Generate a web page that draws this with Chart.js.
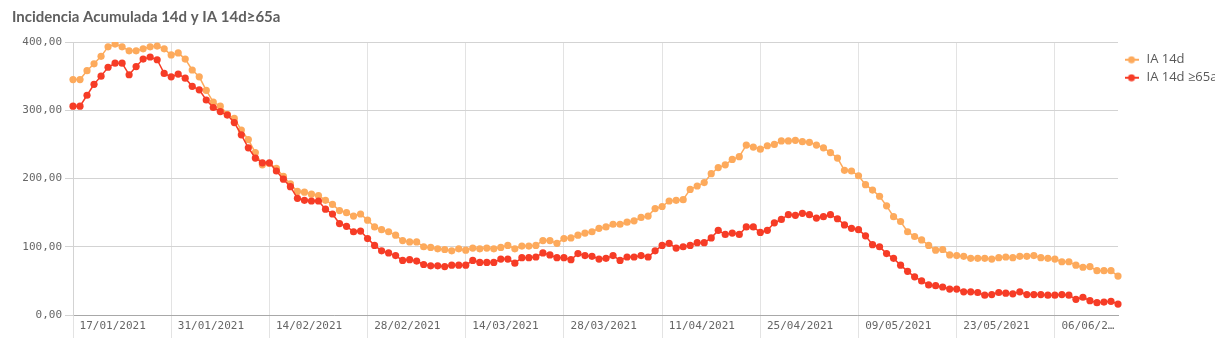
<!DOCTYPE html>
<html>
<head>
<meta charset="utf-8">
<script src="https://cdn.jsdelivr.net/npm/chart.js@4"></script>
<style>
  html, body { margin: 0; padding: 0; background: #fff; }
  #wrap { width: 1215px; height: 358px; }
</style>
</head>
<body>
<div id="wrap"><canvas id="chart" width="1215" height="358"></canvas></div>
<script>
const startDate = new Date(2021, 0, 17);
const labelStep = 14;

// IA 14d (orange)
const ia14d = [
  345, 345, 358, 368, 379, 393, 397, 393, 387, 387, 390, 393, 394, 390, 381, 384, 375, 359, 349, 329,
  312, 306, 294, 288, 271, 257, 238, 220, 222, 215, 203, 192, 181, 180, 177, 175, 168, 162,
  153, 150, 145, 148, 139, 129, 125, 122, 117, 109, 107, 107, 100, 99, 97, 96, 94, 97, 95, 98,
  97, 98, 97, 99, 102, 97, 101, 101, 102, 109, 109, 105, 112, 113, 117, 120, 122,
  127, 129, 133, 133, 136, 138, 143, 145, 156, 159, 167, 168, 169, 184, 189, 194, 207, 216, 220,
  228, 232, 249, 246, 243, 248, 250, 255, 255, 256, 254, 253, 249, 245, 238, 230, 212, 211,
  204, 191, 183, 174, 160, 144, 137, 122, 115, 110, 102, 95, 96, 88, 87, 86, 83, 83, 83, 82,
  84, 85, 84, 86, 86, 87, 84, 83, 82, 78, 78, 73, 70, 71, 65, 65, 65, 57
];

// IA 14d >=65a (red)
const ia14d65 = [
  306, 306, 322, 338, 350, 363, 369, 369, 352, 364, 375, 378, 374, 354, 349, 353, 347, 335, 330, 315,
  304, 298, 293, 282, 264, 245, 230, 223, 223, 211, 199, 188, 171, 168, 167, 167, 155, 148,
  134, 130, 122, 123, 112, 102, 94, 91, 87, 80, 81, 79, 74, 72, 72, 71, 73, 73, 73, 80,
  77, 77, 77, 82, 82, 76, 84, 84, 85, 91, 88, 84, 84, 81, 90, 87, 86,
  82, 83, 87, 80, 85, 85, 87, 85, 94, 102, 105, 98, 100, 102, 106, 106, 113, 124, 118,
  120, 118, 129, 129, 121, 124, 135, 140, 147, 146, 149, 147, 142, 144, 147, 141, 132, 127,
  125, 116, 103, 100, 90, 83, 73, 64, 56, 50, 44, 43, 41, 38, 38, 34, 34, 33, 29, 30,
  33, 32, 31, 34, 30, 30, 30, 29, 29, 30, 29, 23, 26, 21, 18, 19, 20, 16
];

const yTicks = [0, 100, 200, 300, 400];
// the last tick label does not fit before the plot edge and is cut short
const lastTickLabel = '06/06/2…';

function pad(n) { return n < 10 ? '0' + n : '' + n; }
const dates = [];
for (let i = 0; i < ia14d.length; i++) {
  const d = new Date(startDate.getFullYear(), startDate.getMonth(), startDate.getDate() + i);
  dates.push(pad(d.getDate()) + '/' + pad(d.getMonth() + 1) + '/' + d.getFullYear());
}

const orange = '#fdaa5c';
const red = '#f63c26';

function legendMarker(color) {
    const c = document.createElement('canvas');
    c.width = 14; c.height = 8;
    const ctx = c.getContext('2d');
    ctx.strokeStyle = color;
    ctx.lineWidth = 2;
    ctx.beginPath(); ctx.moveTo(0, 4); ctx.lineTo(14, 4); ctx.stroke();
    ctx.fillStyle = color;
    ctx.beginPath(); ctx.arc(7, 4, 3.5, 0, Math.PI * 2); ctx.fill();
    return c;
}

const mono = 'DejaVu Sans Mono';
const lastIdx = Math.floor((ia14d.length - 1) / labelStep) * labelStep;

new Chart(document.getElementById('chart'), {
    type: 'line',
    data: {
        labels: dates,
        datasets: [
            {
                label: 'IA 14d',
                data: ia14d,
                borderColor: orange,
                backgroundColor: orange,
                pointBackgroundColor: orange,
                order: 2
            },
            {
                label: 'IA 14d ≥65a',
                data: ia14d65,
                borderColor: red,
                backgroundColor: red,
                pointBackgroundColor: red,
                order: 1
            }
        ]
    },
    options: {
        responsive: false,
        animation: false,
        layout: { padding: { left: 12, right: 0, top: 0, bottom: 0 } },
        elements: {
            line: { borderWidth: 1.5, tension: 0 },
            point: { radius: 3.6, borderWidth: 0, hoverRadius: 4 }
        },
        plugins: {
            title: {
                display: true,
                text: 'Incidencia Acumulada 14d y IA 14d≥65a',
                align: 'start',
                color: '#5f5f5f',
                font: { family: 'Lato', size: 15, weight: 'bold' },
                padding: { top: 8, bottom: 16 }
            },
            legend: {
                position: 'right',
                align: 'start',
                fullSize: false,
                maxWidth: 97,
                title: { display: true, text: ' ', font: { size: 1 }, padding: { top: 5, bottom: 0 } },
                labels: {
                    usePointStyle: true,
                    pointStyleWidth: 17,
                    boxHeight: 8,
                    color: '#595959',
                    font: { family: 'Open Sans', size: 13 },
                    padding: 5,
                    sort: (a, b) => a.datasetIndex - b.datasetIndex,
                    generateLabels: chart => {
                        const items = Chart.defaults.plugins.legend.labels.generateLabels(chart);
                        items.forEach(it => {
                            const ds = chart.data.datasets[it.datasetIndex];
                            it.pointStyle = legendMarker(ds.borderColor);
                        });
                        return items;
                    }
                }
            },
            tooltip: { enabled: false }
        },
        scales: {
            x: {
                grid: { color: '#e3e3e3', tickLength: 23, tickColor: '#e3e3e3' },
                border: { color: '#a8a8a8', width: 1 },
                afterFit: s => { s.height = 43; },
                ticks: {
                    autoSkip: false,
                    maxRotation: 0,
                    align: 'start',
                    padding: -18,
                    color: '#666',
                    font: { family: mono, size: 11 },
                    callback: function (v, i) {
                        if (i % labelStep !== 0) return null;
                        return ' ' + (i === lastIdx ? lastTickLabel : dates[i]);
                    }
                }
            },
            y: {
                min: 0,
                max: 400,
                afterBuildTicks: s => { s.ticks = yTicks.map(v => ({ value: v })); },
                afterFit: s => { s.width = 61; },
                grid: { color: '#d3d3d3', tickLength: 8, tickColor: '#d3d3d3' },
                border: { color: '#d3d3d3' },
                ticks: {
                    padding: 3,
                    color: '#666',
                    font: { family: mono, size: 11 },
                    callback: v => v.toFixed(2).replace('.', ',')
                }
            }
        }
    }
});
</script>
</body>
</html>
